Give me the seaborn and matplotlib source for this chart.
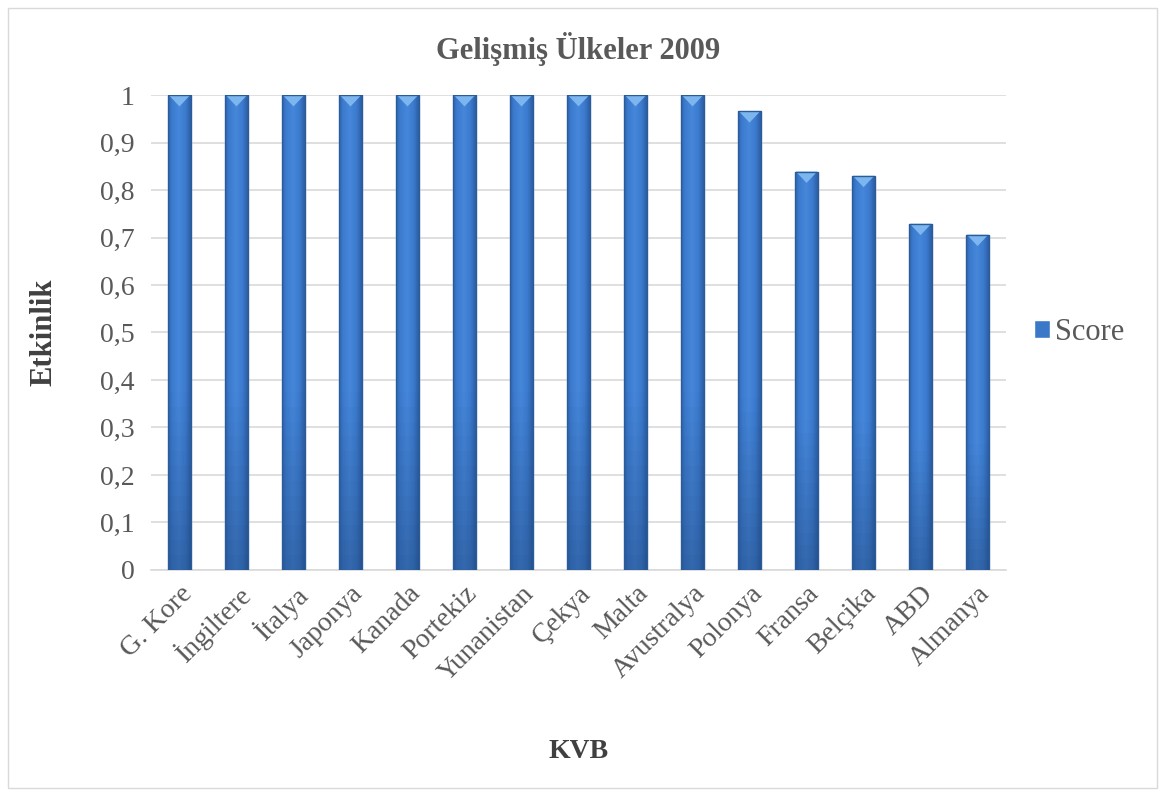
import numpy as np
import pandas as pd
import seaborn as sns
import matplotlib.pyplot as plt
from matplotlib.patches import Polygon, Rectangle
from matplotlib.colors import LinearSegmentedColormap

# veriler
ulkeler = ["G. Kore", "İngiltere", "İtalya", "Japonya", "Kanada", "Portekiz",
           "Yunanistan", "Çekya", "Malta", "Avustralya", "Polonya", "Fransa",
           "Belçika", "ABD", "Almanya"]
skor = [1, 1, 1, 1, 1, 1, 1, 1, 1, 1, 0.966, 0.839, 0.83, 0.729, 0.706]
y_ticks = [0, 0.1, 0.2, 0.3, 0.4, 0.5, 0.6, 0.7, 0.8, 0.9, 1]

sns.set_theme(style="white")
plt.rcParams['font.family'] = ['Liberation Serif', 'DejaVu Serif']

df = pd.DataFrame({"KVB": ulkeler, "Score": skor})

fig = plt.figure(figsize=(11.65, 7.96), dpi=100)
ax = fig.add_axes([0.1296, 0.284, 0.734, 0.5966])

sns.barplot(data=df, x="KVB", y="Score", color="#3b78c8", width=0.41,
            saturation=1, ax=ax, zorder=3, label="Score")

# bevel efekti - her cubuk icin gradyan + ust ucgen
grad = np.linspace(0, 1, 64)
prof = 1 - np.abs(grad - 0.45) * 2
cmap = LinearSegmentedColormap.from_list("bev", ["#2a5a9c", "#3c7bcf", "#4687da"])
koyu = LinearSegmentedColormap.from_list("s", ["#1f4478", "#1f4478"])
for p in list(ax.patches):
    x0, w, h = p.get_x(), p.get_width(), p.get_height()
    img = ax.imshow(np.tile(prof, (2, 1)), cmap=cmap, aspect="auto",
                    extent=[x0, x0 + w, 0, h], zorder=3.5)
    img.set_clip_path(p)
    vert = np.linspace(0, 1, 32).reshape(-1, 1)
    shade = ax.imshow(np.ones((32, 1)), cmap=koyu,
                      alpha=np.clip(0.45 - vert * 1.2, 0, 1), aspect="auto",
                      extent=[x0, x0 + w, 0, h], origin="lower", zorder=3.6)
    shade.set_clip_path(p)
    d = 0.024
    tri = Polygon([[x0 + 0.04 * w, h], [x0 + 0.96 * w, h], [x0 + w / 2, h - d]],
                  closed=True, facecolor="#7db6ee", edgecolor="none", zorder=4)
    ax.add_patch(tri)
    side = Rectangle((x0, 0), w, h, facecolor="none", edgecolor="#2b5c9a", lw=1.0, zorder=4.2)
    ax.add_patch(side)
ax.set_xlim(-0.5, len(ulkeler) - 0.5)

ax.set_ylim(0, 1)
ax.set_yticks(y_ticks)
ax.set_yticklabels([("%g" % t).replace(".", ",") for t in y_ticks])
ax.yaxis.grid(True, color="#d9d9d9", lw=1.2, zorder=0)
ax.set_axisbelow(True)
for s in ["left", "right", "top"]:
    ax.spines[s].set_visible(False)
ax.spines["bottom"].set_color("#d9d9d9")
ax.spines["bottom"].set_linewidth(1.2)
ax.tick_params(axis="both", length=0, labelsize=20, colors="#595959")
ax.tick_params(axis="y", pad=12)
ax.tick_params(axis="x", pad=8)
plt.setp(ax.get_xticklabels(), rotation=45, ha="right", rotation_mode="anchor")

ax.set_title("Gelişmiş Ülkeler 2009", fontsize=22, fontweight="bold", color="#595959", pad=26)
ax.set_ylabel("Etkinlik", fontsize=22, fontweight="bold", color="#404040", labelpad=30)
ax.set_xlabel("KVB", fontsize=20, fontweight="bold", color="#404040", labelpad=38)

h, l = ax.get_legend_handles_labels()
leg = ax.legend(h[:1], ["Score"], loc="center left", bbox_to_anchor=(1.0, 0.5), frameon=False,
                fontsize=22, handlelength=0.55, handleheight=0.55, handletextpad=0.15,
                labelcolor="#595959")

fig.patches.append(Rectangle((0.007, 0.01), 0.986, 0.98, transform=fig.transFigure,
                             facecolor="none", edgecolor="#d9d9d9", lw=1))

fig.savefig("out.png", dpi=100)
